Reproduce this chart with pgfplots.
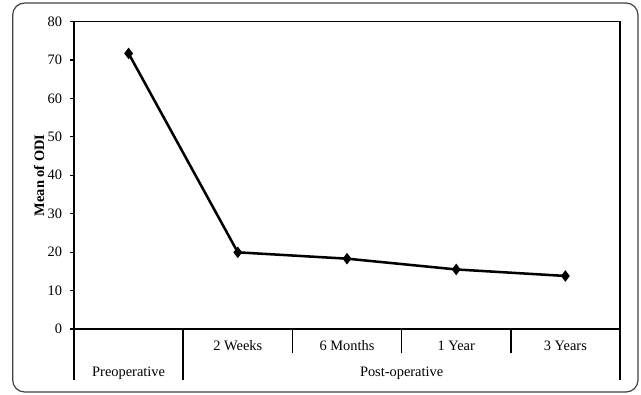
\documentclass[border=0pt]{standalone}
\usepackage{pgfplots}
\pgfplotsset{compat=1.18}
\usepackage{fontspec}
\setmainfont{Liberation Serif}
\begin{document}
\begin{tikzpicture}
\useasboundingbox (0,0) rectangle (480.75pt,295.5pt);
\draw[rounded corners=9pt, color=black!75, line width=0.9pt] (9.5pt,1.5pt) rectangle (478.5pt,293.25pt);
\begin{axis}[
  at={(55.5pt,48.75pt)}, anchor=south west,
  scale only axis, width=409.5pt, height=230.6pt,
  xmin=-0.5, xmax=4.5, ymin=0, ymax=80,
  ytick={0,10,...,80}, xtick=\empty,
  axis line style={line width=1.3pt},
  tick style={black, line width=0.9pt},
  ytick pos=left, tick align=outside, major tick length=3pt,
  yticklabel style={font=\fontsize{10.8}{12}\selectfont, xshift=-2.5pt},
  /pgf/number format/assume math mode=true,
  ylabel={\textbf{Mean of ODI}},
  ylabel style={at={(axis description cs:-0.064,0.5)}, anchor=center, font=\fontsize{10.8}{12}\selectfont},
  clip=false]
\addplot[black, line width=1.9pt, mark=diamond*, mark size=2.8pt] coordinates {(0,71.7)(1,19.95)(2,18.3)(3,15.5)(4,13.8)};
\draw[line width=1.2pt] (axis cs:-0.5,0) -- ++(0pt,-38.25pt);
\draw[line width=1.2pt] (axis cs:0.5,0) -- ++(0pt,-38.25pt);
\draw[line width=1.2pt] (axis cs:1.5,0) -- ++(0pt,-18pt);
\draw[line width=1.2pt] (axis cs:2.5,0) -- ++(0pt,-18pt);
\draw[line width=1.2pt] (axis cs:3.5,0) -- ++(0pt,-18pt);
\draw[line width=1.2pt] (axis cs:4.5,0) -- ++(0pt,-38.25pt);
\tikzset{lab/.style={font=\fontsize{10.8}{12}\selectfont, anchor=center}}
\node[lab] at (axis cs:1,0) [yshift=-12.75pt] {2 Weeks};
\node[lab] at (axis cs:2,0) [yshift=-12.75pt] {6 Months};
\node[lab] at (axis cs:3,0) [yshift=-12.75pt] {1 Year};
\node[lab] at (axis cs:4,0) [yshift=-12.75pt] {3 Years};
\node[lab] at (axis cs:0,0) [yshift=-33pt] {Preoperative};
\node[lab] at (axis cs:2.5,0) [yshift=-33pt] {Post-operative};
\end{axis}
\end{tikzpicture}
\end{document}
